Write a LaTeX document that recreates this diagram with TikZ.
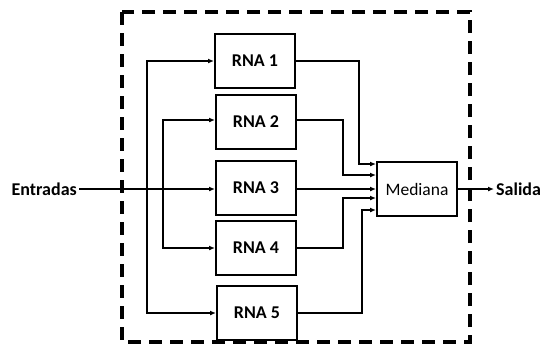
\documentclass[tikz,border=0pt]{standalone}
\usepackage{fontspec}
\setmainfont{Carlito}
\usetikzlibrary{arrows.meta,calc}
\begin{document}
\begin{tikzpicture}[x=1pt, y=-1pt,
  every node/.style={font=\fontsize{18}{21}\selectfont\bfseries},
  rna/.style={draw, line width=2pt, minimum width=80pt, minimum height=54pt},
  con/.style={line width=1.5pt, -{Latex[length=6pt,width=5pt]}}]
  \useasboundingbox (0,0) rectangle (543,346);
  \draw[line width=3.2pt, dash pattern=on 13pt off 8pt] (122,12) rectangle (470,342);
  % redes
  \node[rna] (r1) at (255,61) {RNA 1};
  \node[rna] (r2) at (256,122) {RNA 2};
  \node[rna] (r3) at (256,188) {RNA 3};
  \node[rna] (r4) at (256,248) {RNA 4};
  \node[rna] (r5) at (257,313) {RNA 5};
  \node[rna, font=\fontsize{17.5}{21}\selectfont] (med) at (417,189) {Mediana};
  \node[anchor=east, inner sep=2pt] (ent) at (79,189) {Entradas};
  \node[anchor=west, inner sep=2pt] (sal) at (494,189) {Salida};
  % entrada
  \coordinate (e0) at (123,189);
  \draw[line width=2.6pt] (ent) -- (e0);
  \draw[con] (e0) -- (r3.west |- ent);
  \coordinate (b1) at (147,189);
  \coordinate (b2) at (163,189);
  \draw[con] (b1) |- (r1);
  \draw[con] (b1) |- (r5);
  \draw[con] (b2) |- (r2.west |- 0,120);
  \draw[con] (b2) |- (r4);
  % salidas de las redes
  \coordinate (m1) at ($(med.west)+(0,-25)$);
  \coordinate (m2) at ($(med.west)+(0,-14)$);
  \coordinate (m3) at (med.west);
  \coordinate (m4) at ($(med.west)+(0,9)$);
  \coordinate (m5) at ($(med.west)+(0,21)$);
  \draw[con] (r1.east) -| (359,164) -- (m1);
  \draw[con] (r2.east |- 0,120) -| (343,175) -- (m2);
  \draw[con] (r3.east |- ent) -- (m3);
  \draw[con] (r4.east) -| (343,198) -- (m4);
  \draw[con] (r5.east) -| (362,210) -- (m5);
  \draw[con, line width=2.2pt] (med) -- (sal);
\end{tikzpicture}
\end{document}
